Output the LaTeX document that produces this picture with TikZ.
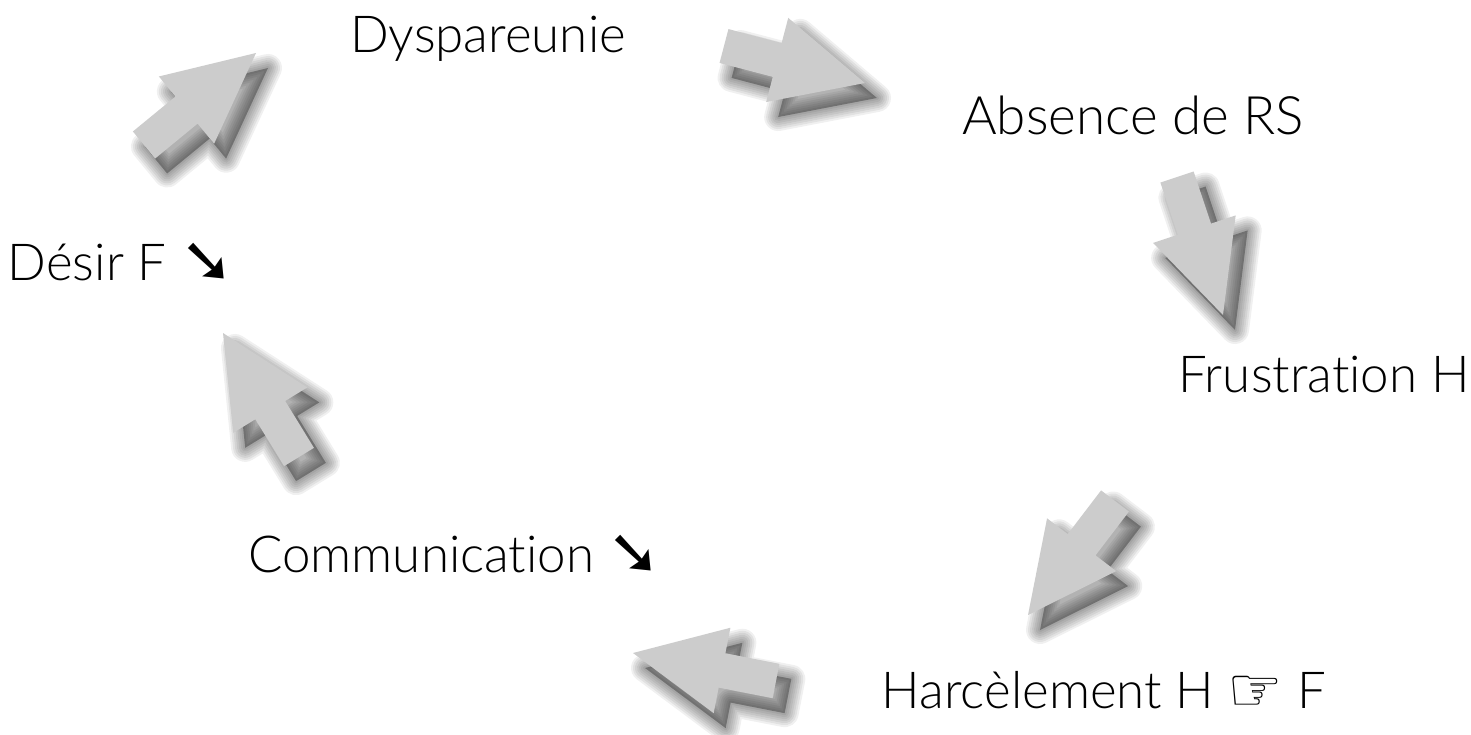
\documentclass[tikz,border=0pt]{standalone}
\usepackage{fontspec}
\setmainfont{Lato}[UprightFont=* Light, Ligatures={NoCommon,NoRequired}]
\newfontfamily\symfont{DejaVu Sans}
\usetikzlibrary{calc}
\tikzset{
  lbl/.style={anchor=base, inner sep=0pt, font=\fontsize{51}{60}\selectfont},
  blockarrow/.style={fill=black!20, draw=none},
  shadowcore/.style={fill=black, fill opacity=0.3, draw=none,
    transform canvas={shift={(12pt,-15pt)}}},
  shadowlayer/.style={draw=black, draw opacity=0.06, fill=none, line join=round,
    transform canvas={shift={(12pt,-15pt)}}}
}
\newcommand\bigarrow[2]{%
  \coordinate (ba) at ($(#1)!55pt!(#2)$);
  \coordinate (q1) at ($(#1)!17.5pt!90:(#2)$);
  \coordinate (q2) at ($(ba)!17.5pt!90:(#2)$);
  \coordinate (q3) at ($(ba)!43.5pt!90:(#2)$);
  \coordinate (q5) at ($(ba)!43.5pt!-90:(#2)$);
  \coordinate (q6) at ($(ba)!17.5pt!-90:(#2)$);
  \coordinate (q7) at ($(#1)!17.5pt!-90:(#2)$);
  \path[shadowcore] (q1) -- (q2) -- (q3) -- (#2) -- (q5) -- (q6) -- (q7) -- cycle;
  \foreach \w in {4,8,...,28} {
    \path[shadowlayer, line width=\w pt] (q1) -- (q2) -- (q3) -- (#2) -- (q5) -- (q6) -- (q7) -- cycle;}
  \path[blockarrow] (q1) -- (q2) -- (q3) -- (#2) -- (q5) -- (q6) -- (q7) -- cycle;}
\newcommand\serarrow{{\symfont\fontsize{64}{64}\selectfont\raisebox{-2pt}{➘}}}
\newcommand\pointhand{{\symfont\fontsize{62}{62}\selectfont\raisebox{-3pt}{☞}}}
\begin{document}
\begin{tikzpicture}[x=1pt,y=1pt]
\useasboundingbox (0,0) rectangle (1471,-734);
\fill[white] (0,0) rectangle (1471,-734);
% labels
\node[lbl] (dys) at (488,-52) {Dyspareunie};
\node[lbl] (abs) at (1133,-134) {\fontsize{53}{60}\selectfont Absence de RS};
\node[lbl] (fru) at (1324,-392) {Frustration H};
\node[lbl] (har) at (1104,-708) {Harcèlement H \pointhand{} F};
\node[lbl] (com) at (455,-572) {Communication \serarrow};
\node[lbl] (des) at (121,-280) {Désir F \serarrow};
% arrow ends
\coordinate (t1) at (144,-145); \coordinate (h1) at (256,-53);
\coordinate (t2) at (724,-46);  \coordinate (h2) at (865,-83);
\coordinate (t3) at (1177,-177); \coordinate (h3) at (1223,-315);
\coordinate (t4) at (1115,-501); \coordinate (h4) at (1028,-615);
\coordinate (t5) at (776,-681); \coordinate (h5) at (633,-653);
\coordinate (t6) at (299,-457); \coordinate (h6) at (223,-333);
\bigarrow{t1}{h1}
\bigarrow{t2}{h2}
\bigarrow{t3}{h3}
\bigarrow{t4}{h4}
\bigarrow{t5}{h5}
\bigarrow{t6}{h6}
\end{tikzpicture}
\end{document}
